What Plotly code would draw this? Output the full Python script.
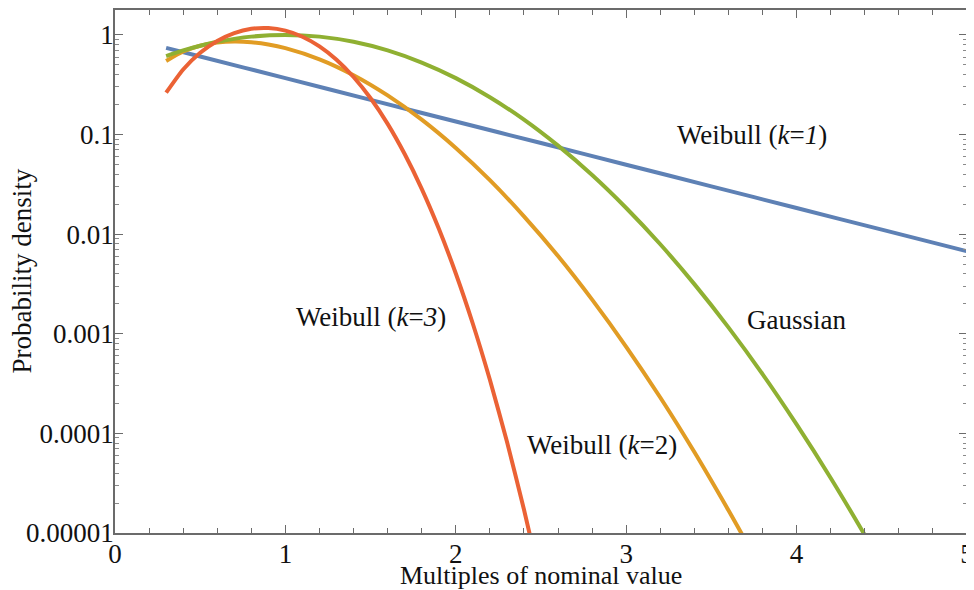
import plotly.graph_objects as go

# Values
x_k1 = [0.3, 0.5, 1.0, 1.5, 2.0, 2.5, 3.0, 3.5, 4.0, 4.5, 5.0]
y_k1 = [0.741, 0.607, 0.368, 0.223, 0.135, 0.0821, 0.0498, 0.0302, 0.0183, 0.0111, 0.00674]

x_k2 = [0.3, 0.4, 0.5, 0.6, 0.7, 0.8, 0.9, 1.0, 1.2, 1.4, 1.6, 1.8, 2.0, 2.2, 2.4,
        2.6, 2.8, 3.0, 3.2, 3.4, 3.6, 3.7]
y_k2 = [0.548, 0.682, 0.779, 0.837, 0.858, 0.844, 0.801, 0.736, 0.569, 0.394, 0.247,
        0.141, 0.0733, 0.0348, 0.0151, 0.00603, 0.00220, 7.40e-4, 2.29e-4, 6.49e-5,
        1.69e-5, 8.4e-6]

x_gauss = [0.3, 0.4, 0.5, 0.6, 0.8, 1.0, 1.2, 1.4, 1.6, 1.8, 2.0, 2.2, 2.4, 2.6, 2.8,
           3.0, 3.2, 3.4, 3.6, 3.8, 4.0, 4.2, 4.4, 4.5]
y_gauss = [0.613, 0.698, 0.779, 0.852, 0.961, 1.0, 0.961, 0.852, 0.698, 0.527, 0.368,
           0.237, 0.141, 0.0773, 0.0392, 0.0183, 0.00791, 0.00315, 0.00116, 3.94e-4,
           1.23e-4, 3.57e-5, 9.54e-6, 4.8e-6]

x_k3 = [0.3, 0.4, 0.5, 0.6, 0.7, 0.8, 0.9, 1.0, 1.1, 1.2, 1.3, 1.4, 1.5, 1.6, 1.7,
        1.8, 1.9, 2.0, 2.1, 2.2, 2.3, 2.4, 2.45]
y_k3 = [0.263, 0.450, 0.662, 0.870, 1.043, 1.151, 1.172, 1.104, 0.959, 0.767, 0.563,
        0.378, 0.231, 0.128, 0.0637, 0.0285, 0.01138, 0.00403, 0.00126, 3.45e-4,
        8.27e-5, 1.72e-5, 7.4e-6]

y_tickvals = [1e-5, 1e-4, 1e-3, 1e-2, 1e-1, 1]
y_ticktext = ["0.00001", "0.0001", "0.001", "0.01", "0.1", "1"]
x_tickvals = [0, 1, 2, 3, 4, 5]

series = [
    ("Weibull (k=1)", x_k1, y_k1, "#5E81B5"),
    ("Weibull (k=2)", x_k2, y_k2, "#E19C24"),
    ("Gaussian", x_gauss, y_gauss, "#8FB032"),
    ("Weibull (k=3)", x_k3, y_k3, "#EB6235"),
]

labels = [
    ("Weibull (<i>k</i>=<i>1</i>)", 3.74, -1.0),
    ("Weibull (<i>k</i>=<i>3</i>)", 1.50, -2.83),
    ("Weibull (<i>k</i>=2)", 2.86, -4.12),
    ("Gaussian", 4.0, -2.86),
]

FONT = "Liberation Serif"
FS = 27

fig = go.Figure()
for name, xs, ys, col in series:
    fig.add_trace(go.Scatter(x=xs, y=ys, mode="lines", name=name,
                             line=dict(color=col, width=4, shape="spline", smoothing=0.6)))

minor_y = [m * 10 ** e for e in range(-5, 1) for m in range(2, 10)]

fig.update_layout(
    width=966, height=582,
    margin=dict(l=107, r=4, t=0, b=57),
    paper_bgcolor="white", plot_bgcolor="white",
    showlegend=False,
    font=dict(family=FONT, size=FS, color="#111"),
    xaxis=dict(
        range=[0, 5], showgrid=False, zeroline=False,
        showline=True, linecolor="#6b6b6b", linewidth=1.5, mirror="ticks",
        ticks="inside", ticklen=8, tickcolor="#6b6b6b", tickwidth=1.2,
        tickvals=x_tickvals, ticktext=[str(v) for v in x_tickvals],
        ticklabeloverflow="allow", ticklabelstandoff=-4,
        tickfont=dict(family=FONT, size=FS, color="#111"),
        minor=dict(ticks="inside", ticklen=5, tickcolor="#6b6b6b", dtick=0.2, tick0=0),
    ),
    yaxis=dict(
        type="log", range=[-5, 0.25], showgrid=False, zeroline=False,
        showline=True, linecolor="#6b6b6b", linewidth=1.5, mirror="ticks",
        ticks="inside", ticklen=8, tickcolor="#6b6b6b", tickwidth=1.2,
        tickvals=y_tickvals, ticktext=y_ticktext, ticklabelstandoff=-6,
        ticklabeloverflow="allow",
        tickfont=dict(family=FONT, size=FS, color="#111"),
        minor=dict(ticks="inside", ticklen=4, tickcolor="#8a8a8a", tickvals=minor_y),
    ),
)

for text, xv, yv in labels:
    fig.add_annotation(x=xv, y=yv, xref="x", yref="y", text=text, showarrow=False,
                       font=dict(family=FONT, size=FS, color="#111"))

# axis titles
fig.add_annotation(x=0.5, y=0, xref="paper", yref="paper", yanchor="middle",
                   yshift=-42, text="Multiples of nominal value", showarrow=False,
                   borderpad=0, font=dict(family=FONT, size=26, color="#111"))
fig.add_annotation(x=0, y=0.5, xref="paper", yref="paper", xanchor="center",
                   xshift=-94, text="Probability density", textangle=-90, showarrow=False,
                   borderpad=0, font=dict(family=FONT, size=27, color="#111"))

fig.write_html("out.html")
